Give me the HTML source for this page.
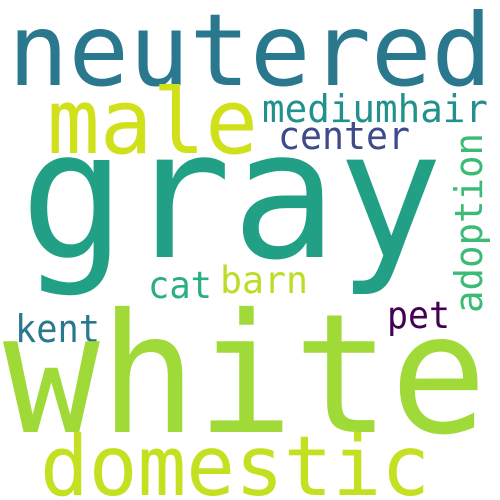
<!DOCTYPE html>
<html><head><meta charset="utf-8"><style>
html,body{margin:0;padding:0;background:#fff;}
svg{display:block}
text{font-family:"DejaVu Sans Mono","Liberation Mono",monospace;}
</style></head><body>
<svg width="500" height="500" viewBox="0 0 500 500">
<rect width="500" height="500" fill="#fff"/>
<text x="8" y="85" font-size="100" fill="#2a788e" textLength="484" lengthAdjust="spacingAndGlyphs">neutered</text>
<text x="47" y="153" font-size="90" fill="#d0e11c" textLength="211" lengthAdjust="spacingAndGlyphs">male</text>
<text x="262" y="122" font-size="38" fill="#21918c" textLength="226" lengthAdjust="spacingAndGlyphs">mediumhair</text>
<text x="278" y="149" font-size="38" fill="#3e4a89" textLength="132" lengthAdjust="spacingAndGlyphs">center</text>
<text x="20" y="257" font-size="178" fill="#22a085" textLength="423" lengthAdjust="spacingAndGlyphs">gray</text>
<text x="148" y="298" font-size="37" fill="#2ab07f" textLength="64" lengthAdjust="spacingAndGlyphs">cat</text>
<text x="220" y="293" font-size="37" fill="#bade28" textLength="88" lengthAdjust="spacingAndGlyphs">barn</text>
<text transform="translate(482,313) rotate(-90)" x="0" y="0" font-size="38" fill="#3bbb75" textLength="180" lengthAdjust="spacingAndGlyphs">adoption</text>
<text x="387" y="328" font-size="37" fill="#440154" textLength="63" lengthAdjust="spacingAndGlyphs">pet</text>
<text x="15" y="342" font-size="38" fill="#2a788e" textLength="85" lengthAdjust="spacingAndGlyphs">kent</text>
<text x="3" y="432" font-size="166" fill="#a0da39" textLength="484" lengthAdjust="spacingAndGlyphs">white</text>
<text x="40" y="495" font-size="83" fill="#c5e021" textLength="390" lengthAdjust="spacingAndGlyphs">domestic</text>
</svg>
</body></html>
